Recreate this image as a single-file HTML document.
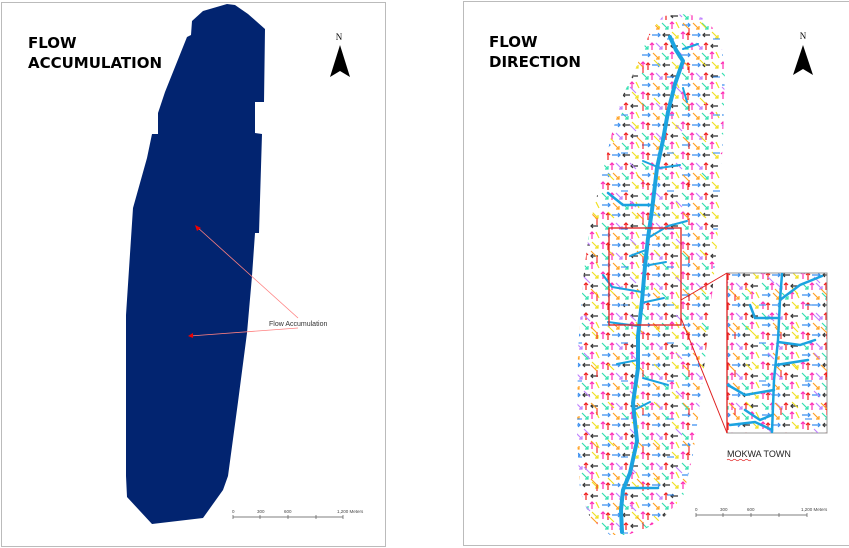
<!DOCTYPE html>
<html><head><meta charset="utf-8"><style>
html,body{margin:0;padding:0;background:#fff;}
svg{display:block}
</style></head><body>
<svg width="849" height="548" viewBox="0 0 849 548" xmlns="http://www.w3.org/2000/svg" font-family="Liberation Sans, sans-serif">
<defs>
<pattern id="fd" width="40" height="30" patternUnits="userSpaceOnUse">
<rect width="40" height="30" fill="#fff"/>
<g stroke-width="1.2" fill="none">
<path d="M3,9 V2 M1,4 L3,2 L5,4" stroke="#ff2db4"/>
<path d="M8,10 V3 M6,5 L8,3 L10,5" stroke="#f02020"/>
<path d="M12,5 H20 M18,3 L20,5 L18,7" stroke="#3a8ff0"/>
<path d="M30,5 H23 M25,3 L23,5 L25,7" stroke="#333"/>
<path d="M32,2 L38,8 M35,8 H38 V5" stroke="#f0e020"/>
<path d="M2,13 L8,19 M5,19 H8 V16" stroke="#30e0b0"/>
<path d="M12,20 V13 M10,15 L12,13 L14,15" stroke="#ff2db4"/>
<path d="M16,13 L22,19 M19,19 H22 V16" stroke="#c080ff"/>
<path d="M26,20 V13 M24,15 L26,13 L28,15" stroke="#f02020"/>
<path d="M38,16 H31 M33,14 L31,16 L33,18" stroke="#333"/>
<path d="M2,25 H10 M8,23 L10,25 L8,27" stroke="#3a8ff0"/>
<path d="M13,23 L19,29 M16,29 H19 V26" stroke="#ffa020"/>
<path d="M22,23 L28,29 M25,29 H28 V26" stroke="#30e0b0"/>
<path d="M32,29 V22 M30,24 L32,22 L34,24" stroke="#ff2db4"/>
<path d="M36,22 L39,28" stroke="#f0e020"/>
</g>
</pattern>
<pattern id="fd2" width="46" height="38" patternUnits="userSpaceOnUse" x="5" y="7">
<g stroke-width="1.1" fill="none">
<path d="M5,15 L11,21" stroke="#f0e020"/>
<path d="M27,4 L33,10" stroke="#c080ff"/>
<path d="M40,28 V21" stroke="#f02020"/>
<path d="M18,32 H25" stroke="#3a8ff0"/>
<path d="M34,16 L40,22" stroke="#ffa020"/>
</g>
</pattern>
<clipPath id="fdclip"><path d="M687,14 L703,18 L720,35 L725,70 L723,140 L717,245 L710,315 L700,403 L693,455 L683,497 L663,518 L647,528 L627,535 L610,535 L590,518 L580,490 L577,438 L578,350 L583,280 L590,224 L602,175 L612,133 L623,95 L635,70 L650,32 L663,16 Z"/></clipPath>
</defs>

<!-- LEFT PANEL -->
<rect x="1.5" y="2.5" width="384" height="544" fill="#fff" stroke="#bbb" stroke-width="1"/>
<polygon fill="#022470" points="192,21 203,11 227,4 235,5 248,14 265,29 264,102 255,102 255,133 262,134 259,233 255,233 252,276 247,333 238,402 228,476 223,490 203,518 152,524 127,497 126,476 126,315 133,208 147,158 152,134 158,134 158,113 165,92 187,37 191,35"/>
<text x="28" y="48" font-size="15" font-weight="bold" font-family="DejaVu Sans, sans-serif" fill="#000">FLOW</text>
<text x="28" y="68" font-size="15" font-weight="bold" font-family="DejaVu Sans, sans-serif" fill="#000">ACCUMULATION</text>
<text x="339" y="40" font-size="9" font-family="Liberation Serif, serif" text-anchor="middle">N</text>
<polygon points="340,45 350,77 340,71 330,77" fill="#000"/>
<line x1="298" y1="318" x2="197" y2="227" stroke="#ff8080" stroke-width="0.8"/>
<line x1="298" y1="328" x2="190" y2="336" stroke="#ff8080" stroke-width="0.8"/>
<polygon points="195,225 201,228 197,231" fill="#e00"/>
<polygon points="188,336 193,333 193,338" fill="#e00"/>
<text x="269" y="326" font-size="7" fill="#333">Flow Accumulation</text>
<g stroke="#555" stroke-width="0.7">
<line x1="233" y1="517" x2="343" y2="517"/>
<line x1="233" y1="515" x2="233" y2="519"/><line x1="260" y1="515" x2="260" y2="519"/><line x1="288" y1="515" x2="288" y2="519"/><line x1="316" y1="515" x2="316" y2="519"/><line x1="343" y1="515" x2="343" y2="519"/>
</g>
<g font-size="4.5" fill="#444"><text x="232" y="513">0</text><text x="257" y="513">300</text><text x="284" y="513">600</text><text x="337" y="513">1,200 Meters</text></g>

<!-- RIGHT PANEL -->
<rect x="463.5" y="1.5" width="390" height="544" fill="#fff" stroke="#bbb" stroke-width="1"/>
<g clip-path="url(#fdclip)">
<rect x="570" y="10" width="160" height="535" fill="url(#fd)"/>
<rect x="570" y="10" width="160" height="535" fill="url(#fd2)"/>
</g>
<g stroke="#1ba3e0" fill="none" stroke-linecap="round" stroke-linejoin="round">
<path d="M670,37 L676,50 L683,61 L675,84 L668,112 L663,140 L657,168 L652,210 L648,238 L645,266 L642,301 L638,336 L638,368 L633,403 L637,441 L630,473 L623,490 L621,510 L622,532" stroke-width="4"/>
<path d="M683,49 L698,44" stroke-width="2"/>
<path d="M683,88 L687,102" stroke-width="2"/>
<path d="M643,161 L660,168 L680,165" stroke-width="2"/>
<path d="M608,193 L623,205 L652,205" stroke-width="2.5"/>
<path d="M648,238 L668,226 L687,221" stroke-width="2"/>
<path d="M646,250 L630,256" stroke-width="2"/>
<path d="M644,266 L666,262" stroke-width="2"/>
<path d="M603,275 L612,287 L642,292" stroke-width="2"/>
<path d="M641,303 L664,298" stroke-width="2"/>
<path d="M608,322 L638,326" stroke-width="2"/>
<path d="M617,364 L638,360" stroke-width="2"/>
<path d="M643,378 L668,385" stroke-width="2"/>
<path d="M634,410 L650,402" stroke-width="2"/>
<path d="M623,488 L658,488" stroke-width="2.5"/>
</g>
<rect x="609" y="228" width="72" height="97" fill="none" stroke="#e02020" stroke-width="1.3"/>
<line x1="681" y1="300" x2="727" y2="273" stroke="#e02020" stroke-width="1"/>
<line x1="681" y1="318" x2="727" y2="433" stroke="#e02020" stroke-width="1"/>
<rect x="727" y="273" width="100" height="160" fill="url(#fd)" stroke="#999" stroke-width="1"/>
<rect x="727" y="273" width="100" height="160" fill="url(#fd2)"/>
<line x1="727" y1="273" x2="727" y2="433" stroke="#e02020" stroke-width="1.3"/>
<g stroke="#1ba3e0" fill="none" stroke-width="2.5" stroke-linecap="round">
<path d="M782,274 L780,300 L778,340 L774,380 L772,432"/>
<path d="M780,300 L800,285 L822,276"/>
<path d="M750,305 L755,318 L778,318"/>
<path d="M778,342 L800,345 L815,340"/>
<path d="M728,385 L745,395 L774,390"/>
<path d="M745,410 L760,420 L772,415"/>
<path d="M730,425 L755,422 L772,430"/>
<path d="M776,365 L808,360"/>
</g>
<text x="727" y="457" font-size="9" fill="#222">MOKWA TOWN</text>
<path d="M727,460 q1.5,-1.5 3,0 t3,0 t3,0 t3,0 t3,0 t3,0 t3,0 t3,0" stroke="#e02020" stroke-width="0.6" fill="none"/>
<text x="489" y="47" font-size="15" font-weight="bold" font-family="DejaVu Sans, sans-serif" fill="#000">FLOW</text>
<text x="489" y="67" font-size="15" font-weight="bold" font-family="DejaVu Sans, sans-serif" fill="#000">DIRECTION</text>
<text x="803" y="39" font-size="9" font-family="Liberation Serif, serif" text-anchor="middle">N</text>
<polygon points="803,45 813,75 803,69 793,75" fill="#000"/>
<g stroke="#555" stroke-width="0.7">
<line x1="696" y1="515" x2="807" y2="515"/>
<line x1="696" y1="513" x2="696" y2="517"/><line x1="723" y1="513" x2="723" y2="517"/><line x1="751" y1="513" x2="751" y2="517"/><line x1="779" y1="513" x2="779" y2="517"/><line x1="807" y1="513" x2="807" y2="517"/>
</g>
<g font-size="4.5" fill="#444"><text x="695" y="511">0</text><text x="720" y="511">300</text><text x="747" y="511">600</text><text x="801" y="511">1,200 Meters</text></g>
</svg>
</body></html>
